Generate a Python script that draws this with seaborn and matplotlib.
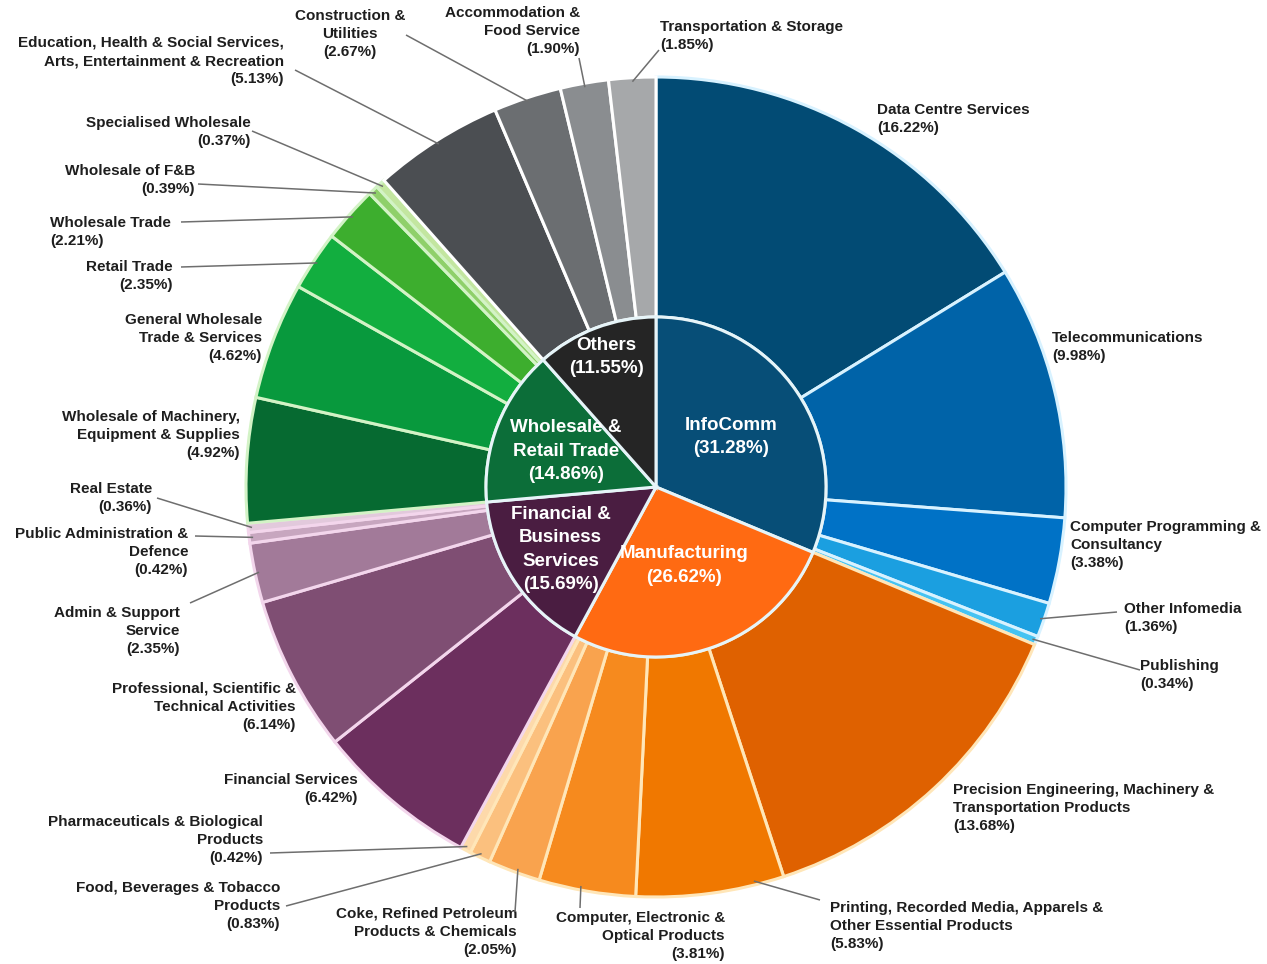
import numpy as np
import matplotlib
matplotlib.use("Agg")
import matplotlib.pyplot as plt
import seaborn as sns

# ---------------- data ----------------
sector_names = ["InfoComm", "Manufacturing", "Financial &\nBusiness\nServices",
                "Wholesale &\nRetail Trade", "Others"]
sector_values = [31.28, 26.62, 15.69, 14.86, 11.55]
sector_colors = ["#074E77", "#FF6A12", "#4A1D41", "#0C6E39", "#252525"]
sector_edge = ["#D8F2FF", "#FFE6B8", "#F3D6EC", "#D3F3C6", "#FFFFFF"]

sub_names = [
    # InfoComm
    "Data Centre Services", "Telecommunications", "Computer Programming &\nConsultancy",
    "Other Infomedia", "Publishing",
    # Manufacturing
    "Precision Engineering, Machinery &\nTransportation Products",
    "Printing, Recorded Media, Apparels &\nOther Essential Products",
    "Computer, Electronic &\nOptical Products",
    "Coke, Refined Petroleum\nProducts & Chemicals",
    "Food, Beverages & Tobacco\nProducts",
    "Pharmaceuticals & Biological\nProducts",
    # Financial & Business Services
    "Financial Services", "Professional, Scientific &\nTechnical Activities",
    "Admin & Support\nService", "Public Administration &\nDefence", "Real Estate",
    # Wholesale & Retail Trade
    "Wholesale of Machinery,\nEquipment & Supplies", "General Wholesale\nTrade & Services",
    "Retail Trade", "Wholesale Trade", "Wholesale of F&B", "Specialised Wholesale",
    # Others
    "Education, Health & Social Services,\nArts, Entertainment & Recreation",
    "Construction &\nUtilities", "Accommodation &\nFood Service", "Transportation & Storage",
]
sub_values = [16.22, 9.98, 3.38, 1.36, 0.34,
              13.68, 5.83, 3.81, 2.05, 0.83, 0.42,
              6.42, 6.14, 2.35, 0.42, 0.36,
              4.92, 4.62, 2.35, 2.21, 0.39, 0.37,
              5.13, 2.67, 1.90, 1.85]
sub_sector = [0] * 5 + [1] * 6 + [2] * 5 + [3] * 6 + [4] * 4
sub_colors = ["#024B74", "#0063A8", "#0072C6", "#1B9FE0", "#45C3F2",
              "#DF6100", "#F07800", "#F68A1E", "#F9A34E", "#FBC07E", "#FDD9AA",
              "#6C2F5E", "#7F4E73", "#A27A99", "#C7A6BF", "#E2C9DC",
              "#066A31", "#08993D", "#12AE3F", "#3DAE2E", "#8FD06A", "#C3E6A0",
              "#4B4E52", "#6B6E71", "#8A8D90", "#A6A8AA"]

# ---------------- layout (pixels, y measured from top) ----------------
W, H = 1267, 964
CX, CY = 656, 487
R_OUT, R_IN = 410, 170

# label anchor: (x, y_center, ha, leader_end or None, position inside wedge 0..1)
label_layout = [
    (877, 119, "left", None, 0.5),
    (1052, 347, "left", None, 0.5),
    (1070, 545, "left", None, 0.5),
    (1124, 618, "left", (1117, 612), 0.5),
    (1140, 675, "left", (1140, 670), 0.5),
    (953, 808, "left", None, 0.5),
    (830, 926, "left", (820, 900), 0.2),
    (725, 936, "right", (580, 908), 0.57),
    (517, 932, "right", (515, 912), 0.45),
    (280, 906, "right", (286, 906), 0.5),
    (263, 840, "right", (270, 853), 0.5),
    (358, 789, "right", None, 0.5),
    (296, 707, "right", None, 0.5),
    (180, 631, "right", (190, 603), 0.5),
    (188, 552, "right", (195, 536), 0.5),
    (152, 498, "right", (157, 498), 0.5),
    (240, 435, "right", None, 0.5),
    (262, 338, "right", None, 0.5),
    (173, 276, "right", (181, 267), 0.5),
    (50, 232, "left", (181, 222), 0.5),
    (195, 180, "right", (198, 184), 0.5),
    (251, 132, "right", (252, 131), 0.5),
    (284, 61, "right", (295, 70), 0.5),
    (350, 34, "center", (406, 35), 0.5),
    (580, 31, "right", (579, 58), 0.5),
    (660, 36, "left", (659, 50), 0.5),
]
inner_label_radius = [90, 83, 114, 97, 139]

# ---------------- drawing ----------------
sns.set_theme(style="white")
plt.rcParams["font.family"] = ["Liberation Sans", "DejaVu Sans"]

fig = plt.figure(figsize=(W / 100, H / 100), dpi=100)
fig.patch.set_facecolor("white")
ax = fig.add_axes([0, 0, 1, 1])

center = (CX, H - CY)

outer_wedges, _ = ax.pie(sub_values, radius=R_OUT, center=center, startangle=90,
                         counterclock=False, colors=sub_colors,
                         wedgeprops=dict(width=R_OUT - R_IN, linewidth=2.2))
for w, s in zip(outer_wedges, sub_sector):
    w.set_edgecolor(sector_edge[s])

inner_wedges, _ = ax.pie(sector_values, radius=R_IN, center=center, startangle=90,
                         counterclock=False, colors=sector_colors,
                         wedgeprops=dict(linewidth=2.2, edgecolor="#E6F4F8"))

ax.set_xlim(0, W)
ax.set_ylim(0, H)
ax.set_aspect("equal")
ax.axis("off")


def point_at(cum_pct, r):
    th = np.deg2rad(90 - 360 * cum_pct / 100)
    return center[0] + r * np.cos(th), center[1] + r * np.sin(th)


# inner labels
cum = np.concatenate([[0], np.cumsum(sector_values)])
for i, (name, v) in enumerate(zip(sector_names, sector_values)):
    mid = (cum[i] + cum[i + 1]) / 2
    x, y = point_at(mid, inner_label_radius[i])
    ax.text(x, y, f"{name}\n({v:.2f}%)", ha="center", va="center",
            color="white", fontsize=13.5, fontweight="bold", linespacing=1.5,
            multialignment="center")

# outer labels
cum_s = np.concatenate([[0], np.cumsum(sub_values)])
for i, (name, v) in enumerate(zip(sub_names, sub_values)):
    lx, ly, ha, lead, frac = label_layout[i]
    ax.text(lx, H - ly, f"{name}\n({v:.2f}%)", ha=ha, va="center",
            multialignment=ha, color="#1E1E1E", fontsize=11,
            fontweight="bold", linespacing=1.38)
    if lead is not None:
        p = cum_s[i] + frac * sub_values[i]
        sx, sy = point_at(p, R_OUT - 4)
        ax.plot([sx, lead[0]], [sy, H - lead[1]], color="#6E6E6E", lw=1.1,
                solid_capstyle="butt", zorder=5)

fig.savefig("out.png", dpi=100, facecolor="white")
